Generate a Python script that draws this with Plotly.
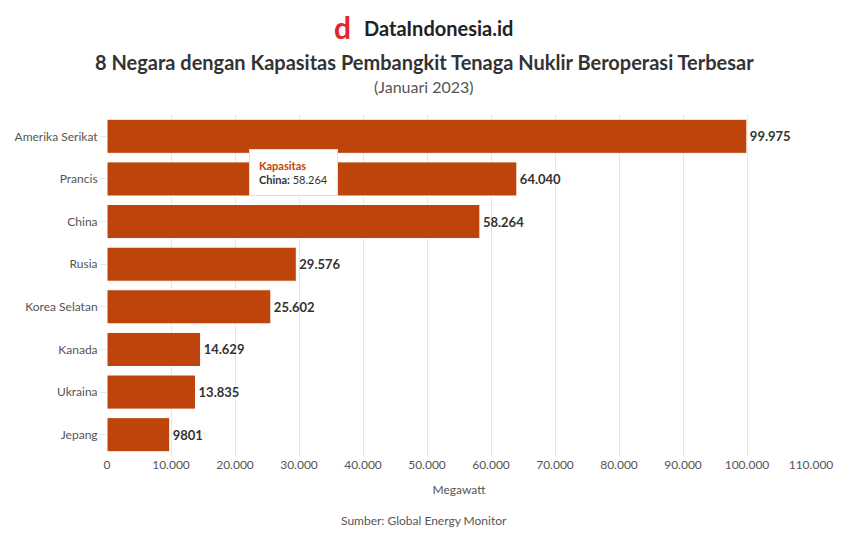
import plotly.graph_objects as go

countries = ["Amerika Serikat", "Prancis", "China", "Rusia", "Korea Selatan", "Kanada", "Ukraina", "Jepang"]
capacity = [99975, 64040, 58264, 29576, 25602, 14629, 13835, 9801]
x_ticks = [0, 10000, 20000, 30000, 40000, 50000, 60000, 70000, 80000, 90000, 100000, 110000]

BAR = "#BD440A"
FONT = "Lato, 'Noto Sans', sans-serif"


def fmt(v):
    # Highcharts-style: no thousands separator below 10.000
    if v < 10000:
        return str(v)
    return f"{v:,}".replace(",", ".")


# page has an 8px body margin; lay out in page coordinates and subtract it
OFF = 8
W, H = 859 - OFF, 544 - OFF
L, R, T, B = 107 - OFF, 48, 115 - OFF, 88
PW, PH = W - L - R, H - T - B


def px(xp):
    return (xp - OFF - L) / PW


def py(yp):
    return 1 - (yp - OFF - T) / PH


fig = go.Figure()
fig.add_trace(go.Bar(
    y=countries, x=capacity, orientation="h",
    marker=dict(color=BAR, line=dict(color="white", width=1)),
    text=[fmt(v) for v in capacity], textposition="outside",
    textfont=dict(family=FONT, size=13, color="#333333"),
    texttemplate="<b>%{text}</b>",
    cliponaxis=False, hoverinfo="skip",
))

fig.update_layout(
    width=W, height=H,
    margin=dict(l=L, r=R, t=T, b=B, autoexpand=False),
    paper_bgcolor="white", plot_bgcolor="white",
    font=dict(family=FONT, size=12, color="#555555"),
    bargap=0.2,
    showlegend=False,
    xaxis=dict(
        range=[0, 110000], tickvals=x_ticks,
        ticktext=[fmt(t) for t in x_ticks],
        showgrid=True, gridcolor="#e6e6e6", gridwidth=1,
        zeroline=False, showline=False, automargin=False,
        tickfont=dict(size=12, color="#555555"),
        title=dict(text="Megawatt", font=dict(size=12, color="#555555"), standoff=14),
    ),
    yaxis=dict(
        autorange="reversed", automargin=False,
        showgrid=False, showline=False, zeroline=False,
        ticks="outside", ticklen=6, tickcolor="#e6e6e6",
        tickfont=dict(size=12, color="#555555"),
    ),
)

# Logo + title
fig.add_annotation(xref="paper", yref="paper", x=px(342), y=py(27),
                   text="<b>d</b>", showarrow=False, xanchor="center", yanchor="middle",
                   font=dict(size=30, color="#E4252A", family=FONT))
fig.add_annotation(xref="paper", yref="paper", x=px(362), y=py(28),
                   text="<b>DataIndonesia.id</b>", showarrow=False, xanchor="left", yanchor="middle",
                   font=dict(size=20, color="#222222", family=FONT))
fig.add_annotation(xref="paper", yref="paper", x=px(424), y=py(62),
                   text="<b>8 Negara dengan Kapasitas Pembangkit Tenaga Nuklir Beroperasi Terbesar</b>",
                   showarrow=False, xanchor="center", yanchor="middle",
                   font=dict(size=20, color="#333333", family=FONT))
fig.add_annotation(xref="paper", yref="paper", x=px(424), y=py(86),
                   text="(Januari 2023)", showarrow=False, xanchor="center", yanchor="middle",
                   font=dict(size=16, color="#555555", family=FONT))
fig.add_annotation(xref="paper", yref="paper", x=px(424), y=py(520),
                   text="Sumber: Global Energy Monitor", showarrow=False,
                   xanchor="center", yanchor="middle",
                   font=dict(size=12, color="#555555", family=FONT))

# Static tooltip on China
ci = countries.index("China")
fig.add_annotation(
    x=capacity[ci] / 2, y=countries[ci], xref="x", yref="y",
    text="<b><span style='color:#BD440A'>Kapasitas</span></b><br><b>China:</b> " + fmt(capacity[ci]),
    showarrow=False, xanchor="center", yanchor="bottom", yshift=26,
    align="left", bgcolor="white", bordercolor="#e0e0e0", borderwidth=1, borderpad=9,
    font=dict(size=11, color="#333333", family=FONT),
)

fig.write_html("out.html")
